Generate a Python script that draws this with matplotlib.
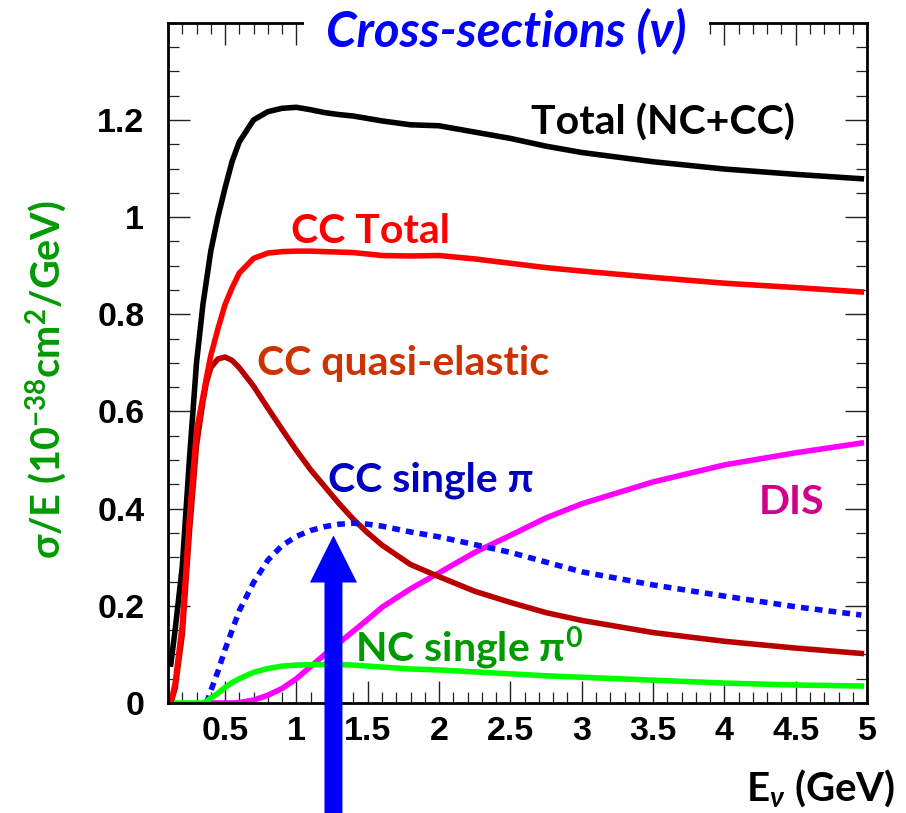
#!/usr/bin/env python3
# -*- coding: utf-8 -*-

"""Neutrino cross-sections per GeV versus neutrino energy"""

import numpy as np
import matplotlib
matplotlib.use('Agg')
import matplotlib.pyplot as plt
from matplotlib.patches import FancyArrow
from matplotlib.ticker import FixedLocator, MultipleLocator, FormatStrFormatter

# Energy grid (GeV) the curves were read at
energy = [0.12, 0.15, 0.2, 0.25, 0.3, 0.345, 0.37, 0.4, 0.45, 0.5, 0.55, 0.6,
          0.7, 0.8, 0.9, 1.0, 1.1, 1.2, 1.3, 1.4, 1.5, 1.6, 1.8, 2.0, 2.25, 2.5,
          2.75, 3.0, 3.5, 4.0, 4.5, 4.96]

# sigma/E in 10^-38 cm^2/GeV, nan = curve not drawn there
total_nc_cc = [0.08, 0.15, 0.28, 0.5, 0.7, 0.82, 0.87, 0.93, 1.0, 1.06, 1.115, 1.155,
               1.2, 1.217, 1.224, 1.226, 1.221, 1.215, 1.211, 1.208, 1.203, 1.198,
               1.19, 1.188, 1.175, 1.162, 1.146, 1.133, 1.114, 1.099, 1.088, 1.079]
cc_total = [0.0, 0.04, 0.16, 0.38, 0.56, 0.63, 0.67, 0.715, 0.77, 0.82, 0.855, 0.885,
            0.915, 0.926, 0.929, 0.93, 0.93, 0.929, 0.928, 0.927, 0.924, 0.921,
            0.92, 0.921, 0.914, 0.905, 0.896, 0.889, 0.876, 0.864, 0.855, 0.846]
cc_qe = [0.0, 0.03, 0.14, 0.35, 0.53, 0.62, 0.66, 0.69, 0.708, 0.712, 0.705, 0.69,
         0.652, 0.607, 0.563, 0.52, 0.48, 0.445, 0.41, 0.378, 0.35, 0.325,
         0.285, 0.26, 0.23, 0.207, 0.186, 0.17, 0.145, 0.127, 0.113, 0.102]
cc_single_pi = [np.nan, np.nan, np.nan, np.nan, np.nan, np.nan, 0.0, 0.025, 0.065, 0.11, 0.15, 0.19,
                0.248, 0.294, 0.324, 0.343, 0.355, 0.363, 0.368, 0.37, 0.368, 0.364,
                0.352, 0.342, 0.326, 0.31, 0.29, 0.27, 0.243, 0.22, 0.198, 0.181]
dis = [np.nan, np.nan, np.nan, np.nan, np.nan, np.nan, 0.0, 0.0, 0.0, 0.0, 0.0, 0.001,
       0.006, 0.016, 0.03, 0.05, 0.075, 0.1, 0.124, 0.148, 0.172, 0.197,
       0.235, 0.268, 0.31, 0.345, 0.381, 0.41, 0.455, 0.49, 0.515, 0.535]
nc_single_pi0 = [0.0, 0.0, 0.0, 0.0, 0.0, 0.0, 0.004, 0.01, 0.02, 0.032, 0.042, 0.05,
                 0.063, 0.071, 0.076, 0.078, 0.079, 0.079, 0.079, 0.078, 0.076, 0.074,
                 0.07, 0.068, 0.064, 0.06, 0.056, 0.053, 0.047, 0.041, 0.037, 0.035]

x_ticks = [0.5, 1, 1.5, 2, 2.5, 3, 3.5, 4, 4.5, 5]
y_ticks = [0, 0.2, 0.4, 0.6, 0.8, 1.0, 1.2]

LATO = ['Lato', 'DejaVu Sans']


def main():
    """Draw the chart"""

    plt.rcParams['mathtext.fontset'] = 'custom'
    plt.rcParams['mathtext.rm'] = 'Lato:bold'
    plt.rcParams['mathtext.it'] = 'Lato:italic:bold'
    plt.rcParams['mathtext.bf'] = 'Lato:bold'
    plt.rcParams['mathtext.fallback'] = 'stixsans'

    fig = plt.figure(figsize=(9.06, 8.13), dpi=100)
    ax = fig.add_axes([0.1854, 0.1353, 0.7716, 0.8367])

    # Curves
    lw = 4.0
    ax.plot(energy, dis, color='#ff00ff', lw=lw, zorder=3)
    ax.plot(energy, cc_qe, color='#b80000', lw=lw, zorder=3)
    ax.plot(energy, cc_single_pi, color='#0a0aff', lw=lw, zorder=3,
            linestyle=(0, (1.4, 1.1)), dash_capstyle='butt')
    ax.plot(energy, nc_single_pi0, color='#00ff00', lw=lw, zorder=3)
    ax.plot(energy, total_nc_cc, color='black', lw=lw, zorder=3)
    ax.plot(energy, cc_total, color='#ff0000', lw=lw, zorder=3)

    # Curve names
    lbl = dict(fontsize=29.5, fontweight='bold', family=LATO, va='baseline', ha='left')
    ax.text(2.645, 1.169, 'Total (NC+CC)', color='black', **lbl)
    ax.text(0.962, 0.947, 'CC Total', color='#ff0000', **lbl)
    ax.text(0.722, 0.675, 'CC quasi-elastic', color='#cc3300', **lbl)
    ax.text(1.224, 0.435, 'CC single π', color='#0000c0', **lbl)
    ax.text(4.24, 0.39, 'DIS', color='#d0008c', **lbl)
    ax.text(1.411, 0.085, 'NC single π$^{0}$', color='#009900', **lbl)

    # Big blue arrow pointing at the beam energy
    ax.add_patch(FancyArrow(1.26, -0.26, 0, 0.345 + 0.26, width=0.126, head_width=0.33,
                            head_length=0.097, length_includes_head=True,
                            color='#0000ff', lw=0, clip_on=False, zorder=6))

    ax.set_xlim(0.1, 5.0)
    ax.set_ylim(0, 1.4)
    ax.xaxis.set_major_locator(FixedLocator(x_ticks))
    ax.xaxis.set_minor_locator(MultipleLocator(0.1))
    ax.yaxis.set_major_locator(FixedLocator(y_ticks))
    ax.yaxis.set_minor_locator(MultipleLocator(0.05))
    ax.xaxis.set_major_formatter(FormatStrFormatter('%g'))
    ax.yaxis.set_major_formatter(FormatStrFormatter('%g'))

    ax.tick_params(which='both', direction='in', top=True, right=True, color='#222222')
    ax.tick_params(which='major', length=16, width=1.0)
    ax.tick_params(which='minor', length=8, width=0.9)
    ax.tick_params(axis='x', which='major', pad=9.5)
    ax.tick_params(axis='y', which='major', pad=17)
    for lab in ax.get_xticklabels() + ax.get_yticklabels():
        lab.set_fontfamily('Liberation Sans')
        lab.set_fontweight('bold')
        lab.set_fontsize(24.5)
    for sp in ax.spines.values():
        sp.set_linewidth(2.0)
        sp.set_zorder(5)

    # Axis titles
    ax.text(-0.173, 0.475, 'σ/E (10$^{-38}$cm$^{2}$/GeV)', transform=ax.transAxes,
            rotation=90, ha='center', va='center', fontsize=28.5, fontweight='bold',
            family=LATO, color='#009a00')
    ax.text(1.04, -0.125, r'E$_{\nu}$ (GeV)', transform=ax.transAxes, ha='right',
            va='center', fontsize=29, fontweight='bold', family=LATO, color='black')

    # Title sitting on the top frame
    ax.text(0.484, 0.989, 'Cross-sections (ν)', transform=ax.transAxes, ha='center',
            va='center', fontsize=35.5, fontstyle='italic', fontweight='bold', family=LATO,
            color='#0000ff', zorder=10, clip_on=False,
            bbox=dict(boxstyle='square,pad=0.45', fc='white', ec='none'))

    fig.savefig('out.png', dpi=100)


if __name__ == "__main__":
    main()
